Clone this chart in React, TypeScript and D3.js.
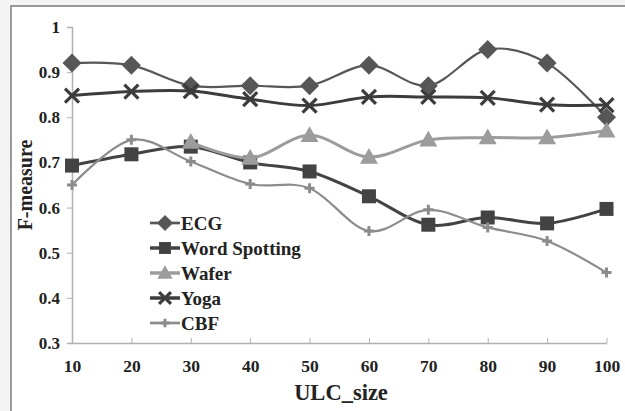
import React, { useEffect, useRef } from 'react';
import * as d3 from 'd3';

const sizes = [10, 20, 30, 40, 50, 60, 70, 80, 90, 100];
const yTicks = [0.3, 0.4, 0.5, 0.6, 0.7, 0.8, 0.9, 1];

const ecg = [0.92, 0.915, 0.87, 0.87, 0.87, 0.915, 0.87, 0.95, 0.92, 0.8];
const wordSpotting = [0.693, 0.718, 0.735, 0.7, 0.68, 0.625, 0.562, 0.578, 0.565, 0.597];
const wafer = [null, null, 0.745, 0.71, 0.76, 0.712, 0.75, 0.755, 0.755, 0.77];
const yoga = [0.848, 0.857, 0.858, 0.84, 0.826, 0.845, 0.845, 0.843, 0.828, 0.827];
const cbf = [0.65, 0.75, 0.702, 0.652, 0.643, 0.548, 0.595, 0.556, 0.526, 0.456];

const seriesNames = ['ECG', 'Word Spotting', 'Wafer', 'Yoga', 'CBF'];

const App = () => {
  const svgRef = useRef(null);

  useEffect(() => {
    const svg = d3.select(svgRef.current);
    svg.selectAll('*').remove();

    const W = 625, H = 411;
    const font = '"Liberation Serif", "Times New Roman", serif';

    svg.append('rect').attr('width', W).attr('height', H).attr('fill', '#f4f4f4');
    svg.append('rect').attr('x', 11).attr('y', 6).attr('width', W).attr('height', H)
      .attr('fill', '#fff').attr('stroke', '#9a9a9a').attr('stroke-width', 2);

    const x = d3.scaleLinear().domain([10, 100]).range([72, 606.5]);
    const y = d3.scaleLinear().domain([0.3, 1]).range([343, 27]);

    // axes
    const gy = svg.append('g').attr('transform', 'translate(72,0)')
      .call(d3.axisLeft(y).tickValues(yTicks).tickSize(5).tickFormat(d => d3.format('')(+d)));
    gy.select('.domain').attr('stroke', '#b0b0b0').attr('stroke-width', 1.5);
    gy.selectAll('.tick line').attr('stroke', '#b0b0b0');
    gy.selectAll('text').attr('font-family', font).attr('font-weight', 'bold')
      .attr('font-size', 17).attr('fill', '#222').attr('x', -12);

    const gx = svg.append('g').attr('transform', 'translate(0,343)')
      .call(d3.axisBottom(x).tickValues(sizes).tickSize(5).tickSizeOuter(0));
    gx.select('.domain').attr('stroke', '#b0b0b0').attr('stroke-width', 1.5);
    gx.selectAll('.tick line').attr('stroke', '#b0b0b0').attr('y2', -5);
    gx.selectAll('text').attr('font-family', font).attr('font-weight', 'bold')
      .attr('font-size', 17.5).attr('fill', '#222').attr('y', 17);

    svg.append('text').attr('x', 341).attr('y', 400).attr('text-anchor', 'middle')
      .attr('font-family', font).attr('font-weight', 'bold').attr('font-size', 22.5)
      .attr('fill', '#222').text('ULC_size');
    svg.append('text').attr('transform', 'translate(32,185) rotate(-90)')
      .attr('text-anchor', 'middle').attr('font-family', font).attr('font-weight', 'bold')
      .attr('font-size', 20).attr('fill', '#222').text('F-measure');

    const defs = [
      { name: seriesNames[0], values: ecg, color: '#575757', width: 2.2, marker: 'diamond' },
      { name: seriesNames[1], values: wordSpotting, color: '#434343', width: 3, marker: 'square' },
      { name: seriesNames[2], values: wafer, color: '#9c9c9c', width: 3, marker: 'triangle' },
      { name: seriesNames[3], values: yoga, color: '#3c3c3c', width: 3, marker: 'x' },
      { name: seriesNames[4], values: cbf, color: '#8c8c8c', width: 2.2, marker: 'plus' },
    ];

    const drawMarker = (g, kind, cx, cy, color, scale = 1) => {
      if (kind === 'diamond') {
        const r = 9.5 * scale;
        g.append('path').attr('d', `M${cx},${cy - r}L${cx + r},${cy}L${cx},${cy + r}L${cx - r},${cy}Z`)
          .attr('fill', color);
      } else if (kind === 'square') {
        const s = 7 * scale;
        g.append('rect').attr('x', cx - s).attr('y', cy - s).attr('width', 2 * s).attr('height', 2 * s)
          .attr('fill', color);
      } else if (kind === 'triangle') {
        const s = 9 * scale;
        g.append('path').attr('d', `M${cx},${cy - s}L${cx + s},${cy + s * 0.75}L${cx - s},${cy + s * 0.75}Z`)
          .attr('fill', color);
      } else if (kind === 'x') {
        const s = 7 * scale;
        g.append('path').attr('d', `M${cx - s},${cy - s}L${cx + s},${cy + s}M${cx - s},${cy + s}L${cx + s},${cy - s}`)
          .attr('stroke', color).attr('stroke-width', 3.2);
      } else {
        const s = 5 * scale;
        g.append('path').attr('d', `M${cx - s},${cy}L${cx + s},${cy}M${cx},${cy - s}L${cx},${cy + s}`)
          .attr('stroke', color).attr('stroke-width', 3);
      }
    };

    const line = d3.line()
      .defined(d => d[1] != null)
      .x(d => x(d[0]))
      .y(d => y(d[1]))
      .curve(d3.curveCatmullRom.alpha(0));

    defs.forEach(s => {
      const pts = sizes.map((v, i) => [v, s.values[i]]);
      svg.append('path').datum(pts.filter(p => p[1] != null)).attr('d', line)
        .attr('fill', 'none').attr('stroke', s.color).attr('stroke-width', s.width);
      const g = svg.append('g');
      pts.filter(p => p[1] != null).forEach(p => drawMarker(g, s.marker, x(p[0]), y(p[1]), s.color));
    });

    // legend
    const lg = svg.append('g');
    defs.forEach((s, i) => {
      const ly = 223 + i * 25;
      lg.append('line').attr('x1', 150).attr('x2', 180).attr('y1', ly).attr('y2', ly)
        .attr('stroke', s.color).attr('stroke-width', s.width + 0.5);
      drawMarker(lg, s.marker, 165, ly, s.color, 0.85);
      lg.append('text').attr('x', 181).attr('y', ly + 6.5).attr('font-family', font)
        .attr('font-weight', 'bold').attr('font-size', 19).attr('fill', '#222').text(s.name);
    });
  }, []);

  return (
    <svg ref={svgRef} width={625} height={411}
      style={{ position: 'absolute', left: 0, top: 0, display: 'block' }} />
  );
};

export default App;
